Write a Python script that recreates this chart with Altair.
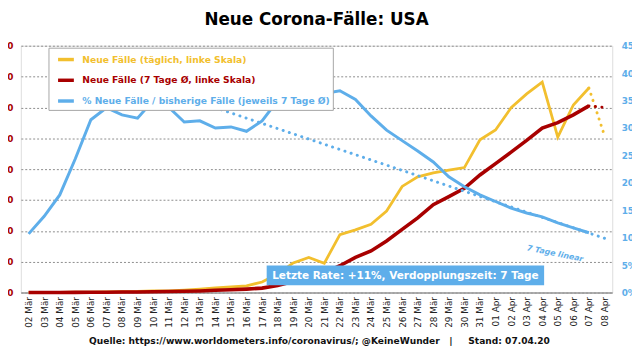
import altair as alt
import pandas as pd

ORANGE = "#F2BF2E"
RED = "#A80000"
BLUE = "#5EAEEA"
FONT = "DejaVu Sans"

days = ["02 Mär", "03 Mär", "04 Mär", "05 Mär", "06 Mär", "07 Mär", "08 Mär", "09 Mär",
        "10 Mär", "11 Mär", "12 Mär", "13 Mär", "14 Mär", "15 Mär", "16 Mär", "17 Mär",
        "18 Mär", "19 Mär", "20 Mär", "21 Mär", "22 Mär", "23 Mär", "24 Mär", "25 Mär",
        "26 Mär", "27 Mär", "28 Mär", "29 Mär", "30 Mär", "31 Mär", "01 Apr", "02 Apr",
        "03 Apr", "04 Apr", "05 Apr", "06 Apr", "07 Apr", "08 Apr"]

# daily new cases (02 Mär .. 07 Apr)
daily = [20, 25, 30, 70, 70, 110, 130, 180, 290, 270, 400, 550, 750, 900, 1100, 1700,
         3000, 4800, 5700, 4750, 9400, 10150, 11050, 13200, 17200, 18750, 19400, 19850,
         20250, 24750, 26350, 29950, 32200, 34100, 25200, 30400, 33150]
# 7-day average (02 Mär .. 07 Apr)
avg7 = [10, 15, 20, 30, 40, 55, 75, 95, 130, 160, 200, 260, 360, 450, 560, 720,
        1150, 1800, 2500, 3150, 4350, 5700, 6750, 8350, 10250, 12100, 14250, 15550,
        16900, 19050, 20900, 22750, 24650, 26650, 27550, 28800, 30250]
# % new cases / previous cases (02 Mär .. 07 Apr)
pct = [10.7, 13.9, 17.8, 24.4, 31.5, 33.7, 32.4, 31.8, 35.0, 33.8, 31.1, 31.3, 30.0,
       30.2, 29.4, 31.3, 35.0, 36.0, 36.5, 36.3, 36.8, 35.2, 32.2, 29.6, 27.7, 25.8,
       23.8, 21.1, 19.3, 17.8, 16.6, 15.4, 14.5, 13.8, 12.7, 11.8, 10.9]

proj_days = ["07 Apr", "08 Apr"]
daily_proj = [33150, 25450]
avg7_proj = [30250, 30000]
trend_days = ["12 Mär", "08 Apr"]
trend_pct = [35.6, 9.9]

left_ticks = [0, 5000, 10000, 15000, 20000, 25000, 30000, 35000, 40000]
right_ticks = [0, 5, 10, 15, 20, 25, 30, 35, 40, 45]

S_DAILY = "Neue Fälle (täglich, linke Skala)"
S_AVG = "Neue Fälle (7 Tage Ø, linke Skala)"
S_PCT = "% Neue Fälle / bisherige Fälle (jeweils 7 Tage Ø)"
series_names = [S_DAILY, S_AVG, S_PCT]
series_colors = [ORANGE, RED, BLUE]

title_text = "Neue Corona-Fälle: USA"
annotation = "Letzte Rate: +11%, Verdopplungszeit: 7 Tage"
trend_label = "7 Tage linear"
source = ("Quelle: https://www.worldometers.info/coronavirus/; @KeineWunder"
          + "\u00a0" * 3 + "|" + "\u00a0" * 5 + "Stand: 07.04.20")

n = len(daily)
df_daily = pd.DataFrame({"day": days[:n], "value": daily, "series": S_DAILY})
df_avg = pd.DataFrame({"day": days[:n], "value": avg7, "series": S_AVG})
df_pct = pd.DataFrame({"day": days[:n], "pct": pct, "series": S_PCT})
df_daily_proj = pd.DataFrame({"day": proj_days, "value": daily_proj})
df_avg_proj = pd.DataFrame({"day": proj_days, "value": avg7_proj})
df_trend = pd.DataFrame({"day": trend_days, "pct": trend_pct})
df_ann = pd.DataFrame({"label": [annotation]})
df_tl = pd.DataFrame({"label": [trend_label]})
df_title = pd.DataFrame({"label": [title_text]})

x_axis = alt.Axis(labelAngle=-90, labelFont=FONT, labelFontSize=9, labelColor="#222",
                  labelPadding=4, ticks=False, domainColor="#9a9a9a", domainWidth=1.5,
                  grid=False, title=source, titleFont=FONT, titleFontSize=9.2,
                  titleFontWeight="bold", titleColor="#111", titlePadding=9, titleX=302)
X = alt.X("day:O", sort=days, scale=alt.Scale(domain=days, type="point", padding=0.5),
          axis=x_axis)

yl_axis = alt.Axis(values=left_ticks,
                   labelExpr="replace(format(datum.value, ','), ',', '.')",
                   grid=True, gridColor="#8c8c8c", gridDash=[2, 2], gridWidth=1,
                   domain=False, ticks=False, labelPadding=8, labelFont=FONT,
                   labelFontSize=9, labelFontWeight="bold", labelColor=RED, title=None)
YL = alt.Y("value:Q", scale=alt.Scale(domain=[0, 40000]), axis=yl_axis)

yr_axis = alt.Axis(orient="right", values=right_ticks, labelExpr="datum.value + '%'",
                   grid=False, domain=False, ticks=False, labelPadding=9, labelFont=FONT,
                   labelFontSize=9, labelFontWeight="bold", labelColor=BLUE, title=None)
YR = alt.Y("pct:Q", scale=alt.Scale(domain=[0, 45]), axis=yr_axis)

label_color = alt.ExprRef(expr=(f"datum.label == '{S_DAILY}' ? '{ORANGE}' : "
                                f"datum.label == '{S_AVG}' ? '{RED}' : '{BLUE}'"))
legend = alt.Legend(orient="none", legendX=28, legendY=2, title=None,
                    symbolType="stroke", symbolSize=256, symbolStrokeWidth=3.5,
                    labelFont=FONT, labelFontWeight="bold", labelFontSize=9.3,
                    labelColor=label_color, labelLimit=500, padding=2, rowPadding=4,
                    symbolOffset=5.7, labelOffset=6.5, fillColor="white",
                    strokeColor="#a6a6a6", cornerRadius=0, zindex=1)
C = alt.Color("series:N", scale=alt.Scale(domain=series_names, range=series_colors),
              legend=legend)

dots = dict(strokeDash=[0.1, 6.5], strokeCap="round", strokeWidth=3)

orange_line = alt.Chart(df_daily).mark_line(strokeWidth=2.8).encode(x=X, y=YL, color=C)
orange_dot = alt.Chart(df_daily_proj).mark_line(**dots).encode(x=X, y=YL, color=alt.value(ORANGE))
red_line = alt.Chart(df_avg).mark_line(strokeWidth=3.6).encode(x=X, y=YL, color=C)
red_dot = alt.Chart(df_avg_proj).mark_line(**dots).encode(x=X, y=YL, color=alt.value(RED))

blue_trend = alt.Chart(df_trend).mark_line(**dots).encode(x=X, y=YR, color=alt.value(BLUE))
blue_line = alt.Chart(df_pct).mark_line(strokeWidth=3).encode(x=X, y=YR, color=C)

ann_box = alt.Chart(df_ann).mark_rect(color=BLUE).encode(
    x=alt.value(249), x2=alt.value(530), y=alt.value(222.7), y2=alt.value(242.7))
ann_text = alt.Chart(df_ann).mark_text(font=FONT, fontSize=10.6, fontWeight="bold",
                                       color="white", baseline="middle").encode(
    x=alt.value(389.5), y=alt.value(233), text="label:N")
trend_text = alt.Chart(df_tl).mark_text(font=FONT, fontSize=8, fontWeight="bold",
                                        fontStyle="italic", color=BLUE, angle=11.5,
                                        baseline="middle").encode(
    x=alt.value(541), y=alt.value(211), text="label:N")
title_mark = alt.Chart(df_title).mark_text(font=FONT, fontSize=17, fontWeight="bold",
                                           color="black", align="center",
                                           baseline="alphabetic").encode(
    x=alt.value(299.5), y=alt.value(-21), text="label:N")

left = alt.layer(orange_line, orange_dot, red_line, red_dot)
right = alt.layer(blue_trend, blue_line, ann_box, ann_text, trend_text, title_mark)

chart = alt.layer(left, right).resolve_scale(y="independent").properties(
    width=599, height=250,
    autosize=alt.AutoSizeParams(type="none"),
    padding={"left": 13, "top": 36, "right": 20, "bottom": 58},
).configure_view(stroke=None).configure(background="white")

chart.save("out.html", embed_options={"renderer": "svg", "actions": False})
